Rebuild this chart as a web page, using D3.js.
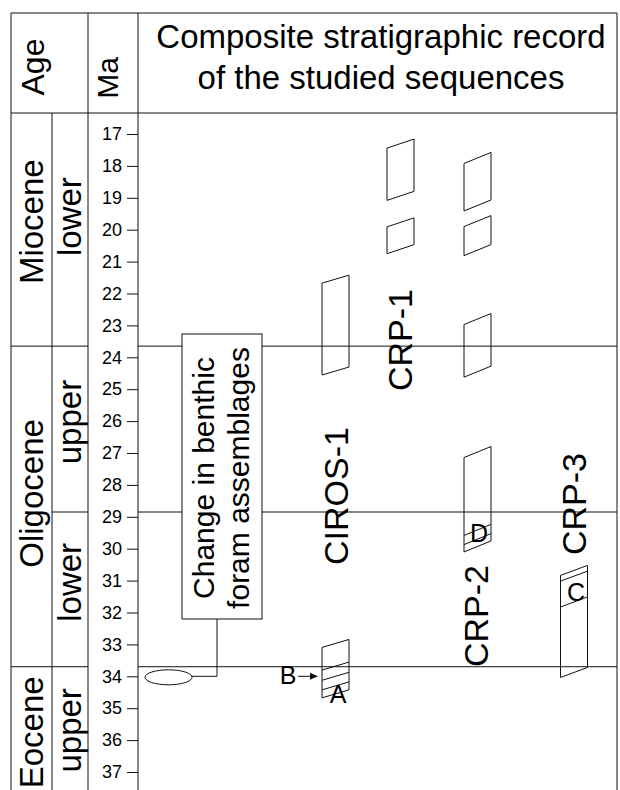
<!DOCTYPE html>
<html>
<head>
<meta charset="utf-8">
<script src="https://cdn.jsdelivr.net/npm/d3@7"></script>
<style>
  html, body { margin: 0; padding: 0; background: #fff; }
  svg { display: block; }
  text { font-family: "Liberation Sans", Arial, Helvetica, sans-serif; fill: #000; }
</style>
</head>
<body>
<svg id="chart" width="620" height="790"></svg>
<script>
// ---------------- DATA ----------------
const tickValues = [17, 18, 19, 20, 21, 22, 23, 24, 25, 26, 27, 28, 29, 30, 31, 32, 33, 34, 35, 36, 37];

const epochNames  = ["Miocene", "Oligocene", "Eocene"];
const epochBounds = [16.35, 23.65, 33.7, 37.6];          // Ma (top of chart, boundaries, bottom of chart)

const subEpochNames  = ["lower", "upper", "lower", "upper"];
const subEpochBounds = [16.35, 23.65, 28.85, 33.7, 37.6];

const boundaryLines = [23.65, 28.85, 33.7];              // Ma

const holes = ["CIROS-1", "CRP-1", "CRP-2", "CRP-3"];

// recovered intervals: [hole, top Ma, base Ma]
const intervalHole = ["CIROS-1", "CIROS-1", "CRP-1", "CRP-1", "CRP-2", "CRP-2", "CRP-2", "CRP-2", "CRP-3"];
const intervalTop  = [21.55, 32.97, 17.30, 19.77, 17.75, 19.73, 22.80, 26.97, 30.68];
const intervalBase = [24.43, 34.55, 18.94, 20.61, 19.24, 20.64, 24.45, 29.93, 33.88];

// internal subdivisions: [hole, Ma]
const divHole = ["CIROS-1", "CIROS-1", "CIROS-1", "CRP-2", "CRP-2", "CRP-3", "CRP-3"];
const divMa   = [33.68, 34.00, 34.30, 29.41, 29.70, 30.86, 31.67];

const eventMa = 34.0;   // B event / ellipse level

const titleLines = ["Composite stratigraphic record", "of the studied sequences"];
const boxLines   = ["Change in benthic", "foram assemblages"];

// ---------------- LAYOUT / STYLE ----------------
const FONT = '"Liberation Sans", Arial, Helvetica, sans-serif';
const L = { left: 11, right: 617, top: 13, headBottom: 113, bottom: 800,
            colEpoch: 52, colSub: 88, axisX: 138 };
const holeX    = { "CIROS-1": 335.5, "CRP-1": 400.5, "CRP-2": 477.5, "CRP-3": 574 };
const holeSkew = { "CIROS-1": 8, "CRP-1": 9, "CRP-2": 11, "CRP-3": 10 };
const holeLabel = { "CIROS-1": [348, 496], "CRP-1": [412, 340], "CRP-2": [488, 616], "CRP-3": [586, 504] };
const epochLabelShift = [-8, -13, 4];
const subLabelShift   = [-13, -7, -7, 2];
const halfW = 13.5;

const svg = d3.select("#chart");
const y = d3.scaleLinear().domain([17, 37]).range([134, 772]);

const ink = "#111";
function line(x1, y1, x2, y2, w) {
  svg.append("line").attr("x1", x1).attr("y1", y1).attr("x2", x2).attr("y2", y2)
    .attr("stroke", ink).attr("stroke-width", w || 1);
}
function vtext(str, x, yc, size) {
  return svg.append("text")
    .attr("transform", `translate(${x},${yc}) rotate(-90)`)
    .attr("text-anchor", "middle")
    .style("font-size", size + "px")
    .text(str);
}

// ---------------- FRAME ----------------
line(L.left, L.top, L.right, L.top);
line(L.left, L.headBottom, L.right, L.headBottom);
line(L.left, L.top, L.left, L.bottom);
line(L.right, L.top, L.right, L.bottom);
line(L.colSub, L.top, L.colSub, L.bottom);
line(L.axisX, L.top, L.axisX, L.bottom);
line(L.colEpoch, L.headBottom, L.colEpoch, L.bottom);

// header texts
vtext("Age", 44, 67, 32);
vtext("Ma", 118, 78, 30);
svg.selectAll("text.title").data(titleLines).enter().append("text")
  .attr("class", "title")
  .attr("x", 381).attr("y", (d, i) => 48 + i * 41)
  .attr("text-anchor", "middle").style("font-size", "33px").text(d => d);

// epochs
epochNames.forEach((n, i) => {
  if (i > 0) line(L.left, y(epochBounds[i]), L.colEpoch, y(epochBounds[i]));
  const y0 = Math.max(y(epochBounds[i]), L.headBottom), y1 = Math.min(y(epochBounds[i + 1]), 790);
  vtext(n, 43, (y0 + y1) / 2 + epochLabelShift[i], 33);
});
subEpochNames.forEach((n, i) => {
  if (i > 0) line(L.colEpoch, y(subEpochBounds[i]), L.colSub, y(subEpochBounds[i]));
  const y0 = Math.max(y(subEpochBounds[i]), L.headBottom), y1 = Math.min(y(subEpochBounds[i + 1]), 790);
  vtext(n, 81, (y0 + y1) / 2 + subLabelShift[i], 33);
});

// axis
const axis = d3.axisLeft(y).tickValues(tickValues).tickSize(11).tickPadding(5).tickFormat(d3.format("d"));
const gAx = svg.append("g").attr("transform", `translate(${L.axisX},0)`).call(axis);
gAx.select(".domain").remove();
gAx.selectAll(".tick line").attr("stroke", ink);
gAx.selectAll(".tick text").style("font-size", "18px").style("font-family", FONT).attr("fill", "#000");

// boundary lines in plot
boundaryLines.forEach(m => line(L.axisX, y(m), L.right, y(m)));

// annotation box
const box = { x0: 182, x1: 262, y0: 334, y1: 619 };
svg.append("rect").attr("x", box.x0).attr("y", box.y0)
  .attr("width", box.x1 - box.x0).attr("height", box.y1 - box.y0)
  .attr("fill", "#fff").attr("stroke", ink).attr("stroke-width", 1);
boxLines.forEach((t, i) => vtext(t, 214 + i * 35, 478, 30));

// connector and ellipse
const connX = 217;
svg.append("path")
  .attr("d", `M${connX},${box.y1} L${connX},${y(eventMa)} L192,${y(eventMa)}`)
  .attr("fill", "none").attr("stroke", ink).attr("stroke-width", 1);
svg.append("ellipse").attr("cx", 168.5).attr("cy", y(eventMa) + 1)
  .attr("rx", 23.5).attr("ry", 7.5).attr("fill", "none").attr("stroke", ink).attr("stroke-width", 1);

// intervals (parallelograms)
intervalTop.forEach((t, i) => {
  const h = intervalHole[i], cx = holeX[h], s = holeSkew[h] / 2, b = intervalBase[i];
  const pts = [[cx - halfW, y(t) + s], [cx + halfW, y(t) - s], [cx + halfW, y(b) - s], [cx - halfW, y(b) + s]];
  svg.append("path").attr("d", d3.line()(pts) + "Z")
    .attr("fill", "none").attr("stroke", ink).attr("stroke-width", 1);
});
divMa.forEach((m, i) => {
  const h = divHole[i], cx = holeX[h], s = holeSkew[h] / 2;
  line(cx - halfW, y(m) + s, cx + halfW, y(m) - s);
});

// hole labels
holes.forEach(h => vtext(h, holeLabel[h][0], holeLabel[h][1], 34));

// letters
const letter = (t, x, yb) => svg.append("text").attr("x", x).attr("y", yb)
  .attr("text-anchor", "middle").style("font-size", "25px").text(t);
letter("A", 338, 703);
letter("B", 288, y(eventMa) + 8);
letter("C", 576, 601);
letter("D", 479, 542);

// arrow B ->
line(298, y(eventMa), 311, y(eventMa));
svg.append("path")
  .attr("d", `M318,${y(eventMa)} L310,${y(eventMa) - 3.5} L310,${y(eventMa) + 3.5} Z`)
  .attr("fill", ink);
</script>
</body>
</html>
